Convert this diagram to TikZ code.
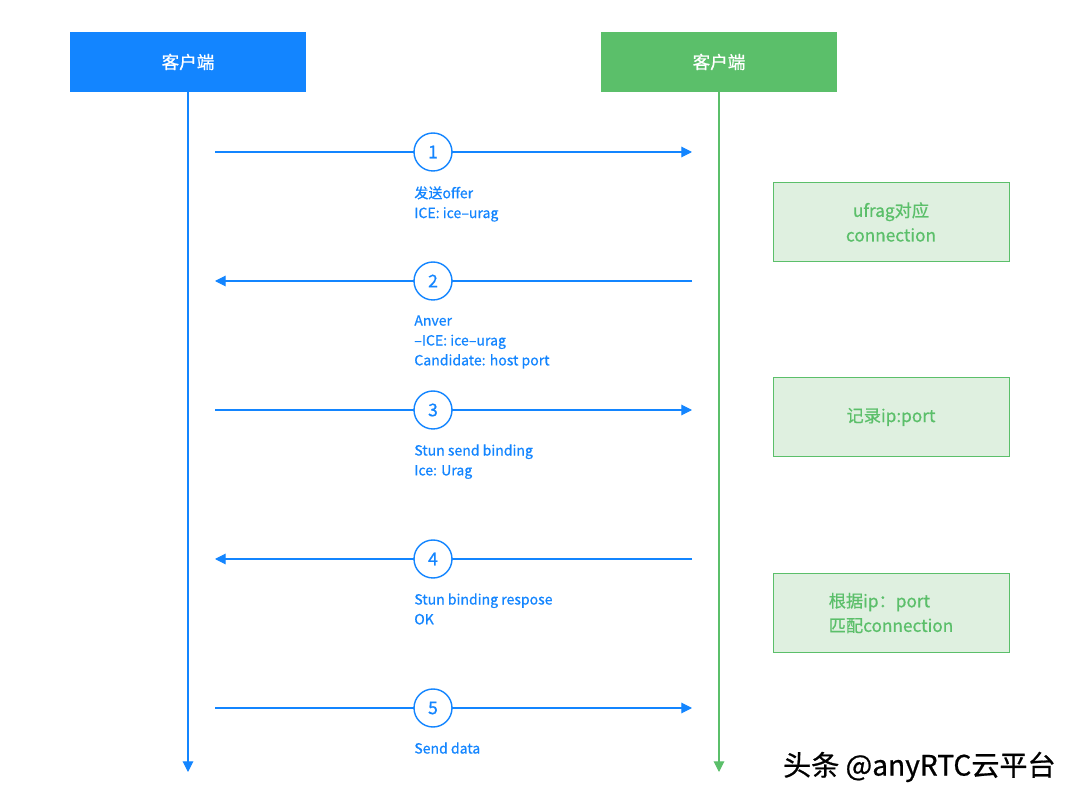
\documentclass[tikz,border=0pt]{standalone}
\usepackage{fontspec}
\setmainfont[FakeBold=0.7]{Noto Sans CJK SC}
\usetikzlibrary{arrows.meta}
\definecolor{msgblue}{HTML}{1385FF}
\definecolor{peergreen}{HTML}{5BBF6A}
\definecolor{notefill}{HTML}{DFF0E0}
\tikzset{
	peer/.style={minimum width=4.72cm,minimum height=1.2cm,inner sep=0pt,text=white,font=\fontsize{10}{12}\selectfont},
	stepnum/.style={circle,draw=msgblue,fill=white,thick,minimum size=0.76cm,inner sep=0pt,text=msgblue,font=\fontsize{10}{12}\selectfont},
	msg/.style={msgblue,semithick,-{Triangle[length=6pt,width=6pt]}},
	msglabel/.style={anchor=north west,inner sep=0pt,align=left,text=msgblue,font=\fontsize{8}{11.3}\selectfont},
	note/.style={draw=peergreen,fill=notefill,minimum width=4.72cm,minimum height=1.58cm,inner sep=0pt,align=center,text=peergreen,font=\fontsize{9.8}{14}\selectfont}
}
\begin{document}
\begin{tikzpicture}[x=0.02cm,y=-0.02cm]
	\useasboundingbox (0,0) rectangle (1080,804);
	\path (188,62) node[peer,fill=msgblue] (cliA) {客户端}
	(719,62) node[peer,fill=peergreen] (cliB) {客户端};
	\coordinate (endA) at (188,772);
	\coordinate (endB) at (719,772);
	\draw[msgblue,semithick,-{Triangle[length=6pt,width=6pt]}] (cliA) -- (endA);
	\draw[peergreen,semithick,-{Triangle[length=6pt,width=6pt]}] (cliB) -- (endB);
	% messages
	\foreach \y/\dir [count=\i] in {152/1,281/0,410/1,559/0,708/1} {
		\coordinate (l\i) at (215,\y);
		\coordinate (r\i) at (692,\y);
		\ifnum\dir=1
			\draw[msg] (l\i) -- (r\i);
		\else
			\draw[msg] (r\i) -- (l\i);
		\fi
		\node[stepnum] (s\i) at (433,\y) {\i};
	}
	\node[msglabel] (t1) at (414,186) {发送offer\\ICE: ice–urag};
	\node[msglabel] (t2) at (414,315) {Anver\\–ICE: ice–urag\\Candidate: host port};
	\node[msglabel] (t3) at (414,444) {Stun send binding\\Ice: Urag};
	\node[msglabel] (t4) at (414,593) {Stun binding respose\\OK};
	\node[msglabel] (t5) at (414,742) {Send data};
	% notes on the right
	\node[note] (n1) at (891,222) {ufrag对应\\connection};
	\node[note] (n2) at (891,417) {记录ip:port};
	\node[note,align=left] (n3) at (891,613) {根据ip：port\\匹配connection};
	\node[anchor=east,inner sep=0pt,font=\fontsize{16}{18}\selectfont] (mark) at (1056,767) {头条 @anyRTC云平台};
\end{tikzpicture}
\end{document}
